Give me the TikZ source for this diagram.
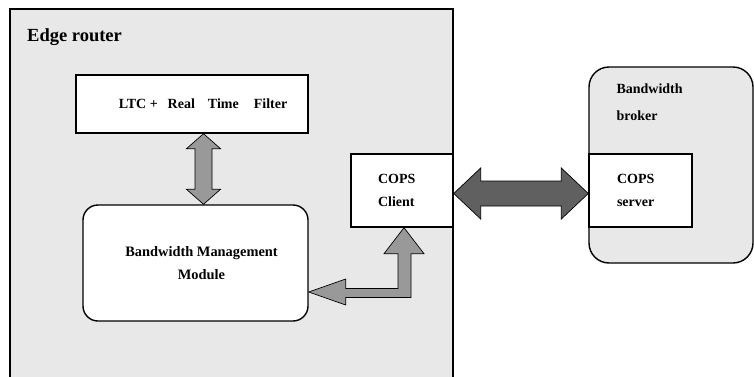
\documentclass[tikz,border=0pt]{standalone}
\usepackage{fontspec}
\setmainfont{Liberation Serif}
\usetikzlibrary{calc,positioning}
\definecolor{panelgray}{HTML}{E8E8E8}
\definecolor{arrowgray}{HTML}{999999}
\definecolor{arrowdark}{HTML}{606060}
\tikzset{
  panel/.style       = { draw, fill=panelgray, line width=1.4pt },
  module/.style      = { rectangle, draw, fill=white, line width=1.4pt,
                         inner sep=0pt,
                         font=\fontsize{14}{23}\selectfont\bfseries },
  roundmodule/.style = { module, rounded corners=15pt },
  title/.style       = { inner sep=0pt, font=\bfseries },
  fatarrow/.style    = { draw, fill=arrowgray, line width=0.7pt, line join=miter },
  darkarrow/.style   = { fatarrow, fill=arrowdark },
}

\begin{document}
\begin{tikzpicture}[x=1pt,y=1pt]
  \useasboundingbox (0,0) rectangle (754,376);
  \clip (0,0) rectangle (754,376);
  % The two enclosing panels
  \draw[panel] (10,-20) rectangle (453,367);
  \node[panel, rounded corners=20pt, minimum width=164pt, minimum height=196pt]
      (broker) at (671,211) {};
  \node[title, anchor=base west, font=\fontsize{18.5}{22}\selectfont\bfseries]
      (routertitle) at (27,335) {Edge router};
  \node[title, anchor=north west, align=left, font=\fontsize{14}{27}\selectfont\bfseries]
      (brokertitle) at ([shift={(28pt,-17pt)}]broker.north west) {Bandwidth\\broker};
  % The modules
  \node[module, minimum width=232pt, minimum height=58pt] (ltc) at (192,272)
      {\hspace*{22pt}LTC +\hspace{10pt}Real\hspace{13pt}Time\hspace{15pt}Filter};
  \node[roundmodule, minimum width=225pt, minimum height=116pt, align=center,
      font=\fontsize{14.4}{23}\selectfont\bfseries] (bmm) at (195.5,113)
      {\hspace*{12pt}Bandwidth Management\\\hspace*{12pt}Module};
  \node[module, minimum width=102pt, minimum height=73pt, text width=48pt, align=left]
      (client) at (402,185.5) {COPS\\Client};
  \node[module, minimum width=103pt, minimum height=73pt, text width=47pt, align=left]
      (server) at (640.5,185.5) {COPS\\server};
  % Now the fat arrows between them
  %% filter <-> management module
  \draw[fatarrow] let \p1=(ltc.south), \p2=(bmm.north) in
    (203.5,\y1) -- (220.5,\y1-15pt) -- (212,\y1-15pt) -- (212,\y2+15pt)
    -- (220.5,\y2+15pt) -- (203.5,\y2) -- (186.5,\y2+15pt) -- (195,\y2+15pt)
    -- (195,\y1-15pt) -- (186.5,\y1-15pt) -- cycle;
  %% management module <-> COPS client, with a corner
  \draw[fatarrow] let \p1=(bmm.east), \p2=(client.south) in
    (\x1,\y1-29pt) -- ++(37,13) -- ++(0,-9.5) -- (398,\y1-25.5pt)
    -- (398,\y2-26pt) -- ++(-14,0) -- (404,\y2) -- (424,\y2-26pt) -- ++(-13,0)
    -- (411,\y1-34.5pt) -- (\x1+37pt,\y1-34.5pt) -- ++(0,-7.5) -- cycle;
  %% COPS client <-> COPS server
  \draw[darkarrow] let \p1=(client.east), \p2=(server.west) in
    (\x1,\y1-3pt) -- ++(27,25.5) -- ++(0,-13) -- (\x2-27pt,\y1+9.5pt)
    -- ++(0,13) -- ++(27,-25.5) -- ++(-27,-25.5) -- ++(0,13)
    -- (\x1+27pt,\y1-15.5pt) -- ++(0,-13) -- cycle;
\end{tikzpicture}
\end{document}
